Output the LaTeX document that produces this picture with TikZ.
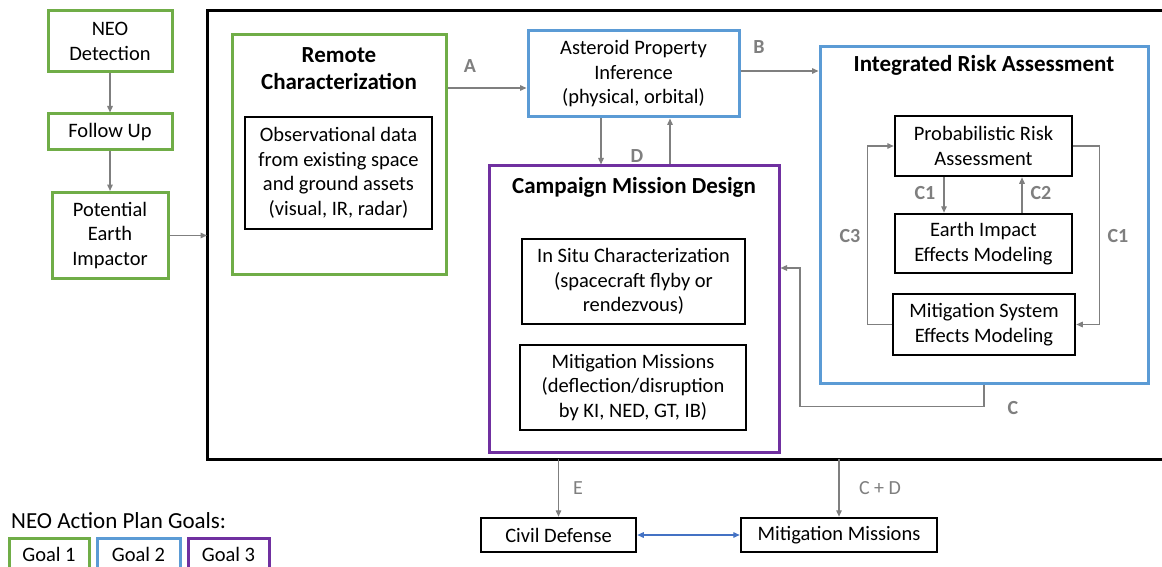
\documentclass[tikz,border=0pt]{standalone}
\usepackage{fontspec}
\setmainfont{Carlito}
\usetikzlibrary{arrows.meta,calc}
\definecolor{ggreen}{HTML}{70AD47}
\definecolor{gblue}{HTML}{5B9BD5}
\definecolor{gpurple}{HTML}{7030A0}
\definecolor{lgray}{HTML}{7F7F7F}
\definecolor{dblue}{HTML}{4472C4}
\begin{document}
\begin{tikzpicture}[x=1pt,y=-1pt,
  txt/.style={font=\fontsize{20.5}{24.5}\selectfont, align=center, text=black, inner sep=0pt},
  ttl/.style={font=\bfseries\fontsize{23}{27}\selectfont, align=center, text=black, inner sep=0pt},
  lab/.style={font=\bfseries\fontsize{20}{24}\selectfont, text=lgray, inner sep=0pt},
  labr/.style={font=\fontsize{20}{24}\selectfont, text=lgray, inner sep=0pt},
  gbox/.style={txt, draw=ggreen, line width=3pt},
  bbox/.style={txt, draw=black, line width=2.5pt},
  cont/.style={line width=3pt, inner sep=0pt},
  arr/.style={draw=lgray, line width=1.4pt, -{Triangle[length=6.5pt,width=5.5pt]}},
  ln/.style={draw=lgray, line width=1.4pt}
]
\useasboundingbox (0,0) rectangle (1162,567);
\fill[white] (0,0) rectangle (1162,567);

% main black frame (open to the right edge)
\draw[line width=3pt] (1162,11) -- (207,11) -- (207,459) -- (1162,459);
\coordinate (mainW) at (207,235.5);
\coordinate (mainS1) at (558.5,459);
\coordinate (mainS2) at (839,459);

% left column
\node[gbox, minimum width=124pt, minimum height=61pt] (neo) at (110,41.5) {NEO\\Detection};
\node[gbox, minimum width=124pt, minimum height=36pt] (fup) at (110,132) {Follow Up};
\node[gbox, minimum width=116pt, minimum height=86pt] (pei) at (110,235.5) {Potential\\Earth\\Impactor};
\draw[arr] (neo) -- (fup);
\draw[arr] (fup) -- (pei);
\draw[arr] (pei.east) -- (mainW);

% Remote characterization
\node[cont, draw=ggreen, minimum width=214pt, minimum height=239pt] (remote) at (339,154.5) {};
\node[ttl] (remoteT) at (339,68.5) {Remote\\Characterization};
\node[bbox, minimum width=187pt, minimum height=112pt] (obs) at (338.5,173) {Observational data\\from existing space\\and ground assets\\(visual, IR, radar)};

% Asteroid property inference
\node[txt, draw=gblue, line width=3pt, minimum width=211pt, minimum height=86pt] (api) at (633.5,74) {Asteroid Property\\Inference\\(physical, orbital)};

% Integrated risk assessment
\node[cont, draw=gblue, minimum width=328pt, minimum height=336pt] (ira) at (984,215) {};
\node[ttl] (iraT) at (984,65) {Integrated Risk Assessment};
\node[bbox, minimum width=177pt, minimum height=60pt] (pra) at (983.5,146) {Probabilistic Risk\\Assessment};
\node[bbox, minimum width=177pt, minimum height=59pt] (eie) at (983.5,243.5) {Earth Impact\\Effects Modeling};
\node[bbox, minimum width=182pt, minimum height=61pt] (mse) at (984,324.5) {Mitigation System\\Effects Modeling};

% Campaign mission design
\node[cont, draw=gpurple, minimum width=290pt, minimum height=286pt] (cmd) at (634,309) {};
\node[ttl] (cmdT) at (634,187) {Campaign Mission Design};
\node[bbox, minimum width=223pt, minimum height=85pt] (ins) at (633.5,281.5) {In Situ Characterization\\(spacecraft flyby or\\rendezvous)};
\node[bbox, minimum width=226pt, minimum height=85pt] (mmi) at (633,387.5) {Mitigation Missions\\(deflection/disruption\\by KI, NED, GT, IB)};

% bottom boxes
\node[bbox, minimum width=155pt, minimum height=34pt] (civ) at (558.5,535) {Civil Defense};
\node[bbox, minimum width=196pt, minimum height=34pt] (mmb) at (839,535) {Mitigation Missions};

% connectors
\coordinate (aEnd) at ($(api.west)+(0,14)$);
\draw[arr] (remote.east |- aEnd) -- (aEnd);
\node[lab] (lA) at (470,66) {A};

\coordinate (bStart) at ($(api.east)+(0,-3)$);
\draw[arr] (bStart) -- (ira.west |- bStart);
\node[lab] (lB) at (759,47) {B};

\coordinate (dDown) at ($(api.south)+(-32.5,0)$);
\coordinate (dUp) at ($(api.south)+(36.5,0)$);
\draw[arr] (dDown) -- (dDown |- cmd.north);
\draw[arr] (dUp |- cmd.north) -- (dUp);
\node[lab] (lD) at (637,156) {D};

\coordinate (cIn) at ($(cmd.east)+(0,-41)$);
\draw[arr] (ira.south) -- ++(0,22) -| (800,268) -- (cIn);
\node[lab] (lC) at (1013,408) {C};

\coordinate (c1a) at ($(pra.south)+(-39.5,0)$);
\coordinate (c2a) at ($(pra.south)+(38.5,0)$);
\draw[arr] (c1a) -- (c1a |- eie.north);
\draw[arr] (c2a |- eie.north) -- (c2a);
\node[lab] (lC1a) at (925,193) {C1};
\node[lab] (lC2) at (1041,193) {C2};

\draw[arr] (pra.east) -- ++(26,0) |- (mse.east);
\node[lab] (lC1b) at (1118,236) {C1};
\draw[arr] (mse.west) -- ++(-24,0) |- (pra.west);
\node[lab] (lC3) at (850,236) {C3};

\draw[arr] (mainS1) -- (civ.north);
\node[labr] (lE) at (578,488) {E};
\draw[arr] (mainS2) -- (mmb.north);
\node[labr] (lCD) at (880,488) {C + D};

\draw[draw=dblue, line width=1.4pt, {Triangle[length=6.5pt,width=5.5pt]}-{Triangle[length=6.5pt,width=5.5pt]}] (civ.east) -- (mmb.west);

% legend
\node[txt, font=\fontsize{23}{27}\selectfont, anchor=west] (legT) at (11,521) {NEO Action Plan Goals:};
\draw[draw=ggreen, line width=3pt] (9,570) -- (9,538) -- (89,538) -- (89,570);
\draw[draw=gblue, line width=3pt] (97,570) -- (97,538) -- (180,538) -- (180,570);
\draw[draw=gpurple, line width=3pt] (188,570) -- (188,538) -- (269,538) -- (269,570);
\node[txt] (g1) at (49,554) {Goal 1};
\node[txt] (g2) at (138.5,554) {Goal 2};
\node[txt] (g3) at (228.5,554) {Goal 3};
\end{tikzpicture}
\end{document}
